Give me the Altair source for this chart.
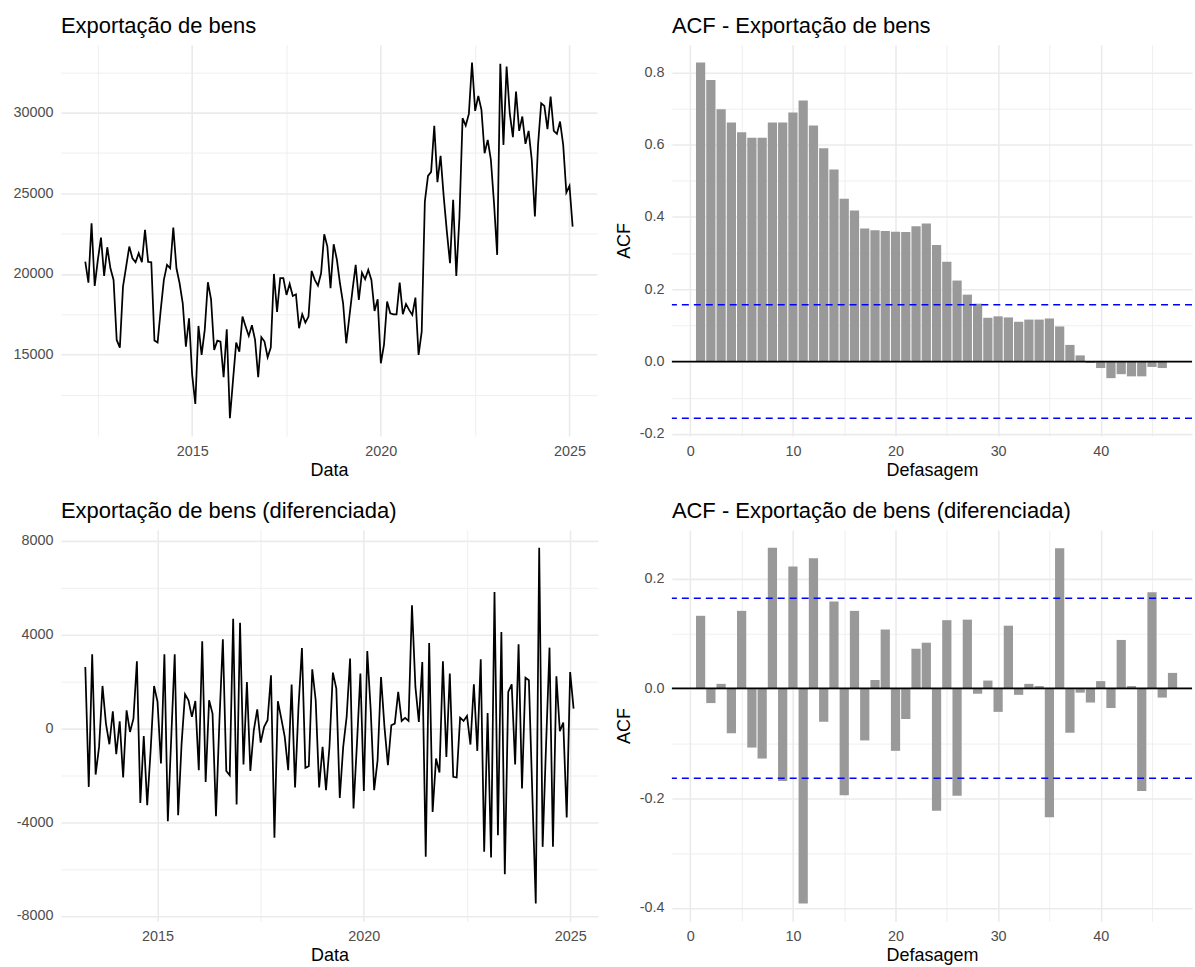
import altair as alt
import numpy as np
import pandas as pd

FONT = "Liberation Sans"

# Monthly goods exports (level), starting March 2012
export_start = "2012-03"
export_values = [
    20765, 19463, 23141, 19257, 20868, 22253, 19877, 21653, 20350, 19630,
    15910, 15435, 19216, 20455, 21695, 20972, 20724, 21282, 20724, 22728,
    20744, 20724, 15869, 15745, 17770, 19630, 20558, 20350, 22873, 20350,
    19422, 18182, 15497, 17253, 13740, 11943, 16778, 14980, 16530, 19484,
    18430, 15290, 15869, 15807, 13596, 16571, 11055, 13431, 15745, 15187,
    17356, 16737, 16158, 16819, 15910, 13596, 16075, 15807, 14836, 15435,
    19999, 17645, 19733, 19733, 18699, 19381, 18637, 18740, 16633, 17501,
    16984, 17356, 20186, 19630, 19278, 20042, 22459, 21695, 19112, 21840,
    20910, 19422, 18182, 15703, 17356, 19009, 20558, 18389, 20083, 19670,
    20248, 19630, 17707, 18430, 14464, 15600, 18286, 17563, 17501, 17501,
    19463, 17501, 18141, 17769, 17459, 18534, 14980, 16427, 24484, 26075,
    26322, 29174, 25682, 27314, 24794, 22624, 20662, 24587, 19877, 23500,
    29649, 29194, 29917, 33099, 30103, 31033, 30165, 27479, 28306, 27066,
    24380, 21178, 33016, 27996, 32851, 29959, 28471, 31302, 28864, 29752,
    28058, 28864, 27066, 23554, 27996, 30578, 30413, 28967, 30992, 28864,
    28678, 29442, 27996, 25042, 25455, 22934,
]

# Differenced series, starting April 2013
diff_start = "2013-04"
diff_values = [
    2615, -2501, 3155, -1975, -796, 1805, 199, -682, 725, -1108,
    298, -2103, 767, -156, 412, 2856, -3183, -327, -3283, -938,
    1805, 1123, -1506, 3155, -3965, -369, 3155, -3709, -654, 1449,
    1194, 483, 1165, -1790, 3709, -2288, 1194, 625, -3751, 300,
    3794, -1820, -2004, 4675, -3254, 4505, -1549, 1975, -1819, -85,
    810, -611, 57, 341, 2259, -4675, 1151, 412, -369, -1790,
    1862, -2529, 909, 3425, -1691, -1620, 2515, 1194, -2529, -796,
    -2643, -800, 2373, 1691, -2970, -796, 483, 2970, -3425, -654,
    2330, -2671, 3297, 767, -2643, -1364, 2188, 57, -1577, 128,
    199, 1549, 313, 441, 313, 5243, 1762, 270, 2828, -5485,
    3638, -3567, -1293, -1890, 2856, -1222, 2330, -2075, -2103, 455,
    313, 526, -696, 1876, -966, 2942, -5272, 654, -5513, 5812,
    -4561, 4107, -6224, 1549, 1876, -1549, 3581, -2572, 2160, 2046,
    -2800, -7475, 7702, -5059, -700, 3439, -5059, 2217, -128, 242,
    -3808, 2401, 838,
]

# Autocorrelations of the level series (lags 1..46)
acf_values = [
    0.827, 0.779, 0.698, 0.661, 0.634, 0.619, 0.619, 0.661, 0.661, 0.689,
    0.722, 0.653, 0.590, 0.531, 0.450, 0.418, 0.368, 0.363, 0.361, 0.359,
    0.358, 0.374, 0.382, 0.322, 0.276, 0.224, 0.185, 0.160, 0.121, 0.125,
    0.122, 0.110, 0.116, 0.116, 0.119, 0.097, 0.046, 0.017, -0.004, -0.018,
    -0.046, -0.035, -0.041, -0.041, -0.015, -0.018,
]

# Autocorrelations of the differenced series (lags 1..47)
acf_diff_values = [
    0.132, -0.027, 0.008, -0.082, 0.141, -0.108, -0.128, 0.256, -0.169, 0.222,
    -0.392, 0.237, -0.061, 0.158, -0.195, 0.141, -0.095, 0.015, 0.107, -0.114,
    -0.056, 0.072, 0.083, -0.223, 0.124, -0.196, 0.125, -0.010, 0.014, -0.043,
    0.114, -0.012, 0.008, 0.004, -0.235, 0.255, -0.081, -0.008, -0.026, 0.013,
    -0.036, 0.088, 0.004, -0.187, 0.175, -0.017, 0.028,
]

# 95% significance bounds
ci_level = 0.157
ci_level_diff = 0.164

ACF_X_DOMAIN = [-1.8, 48.9]
ACF_X_TICKS = [0, 5, 10, 15, 20, 25, 30, 35, 40, 45]


def monthly_index(start, n):
    months = pd.period_range(start, periods=n, freq="M")
    return np.asarray(months.year, dtype=float) + (np.asarray(months.month) - 1) / 12


def expand(lo, hi, mult=0.05):
    d = (hi - lo) * mult
    return [lo - d, hi + d]


def make_axis(values, major, title, fmt):
    return alt.Axis(
        values=values,
        title=title,
        labelExpr=f"({major}) ? replace(format(datum.value, '{fmt}'), '\u2212', '-') : ''",
        gridWidth={"condition": {"test": major, "value": 1.6}, "value": 0.8},
        labelOverlap=False,
        labelFlush=False,
    )


def title_params(text):
    return alt.TitleParams(
        text, anchor="start", frame="group", fontSize=22, fontWeight="normal",
        font=FONT, color="black", offset=-10, baseline="alphabetic",
    )


def series_panel(start, values, title, xticks, xmajor, yticks, ymajor, width, height):
    t = monthly_index(start, len(values))
    df = pd.DataFrame({"t": t, "v": values})
    xdom = expand(float(t.min()), float(t.max()))
    ydom = expand(float(min(values)), float(max(values)))
    return alt.Chart(df).mark_line(color="black", strokeWidth=1.75).encode(
        x=alt.X("t:Q", scale=alt.Scale(domain=xdom, nice=False, zero=False),
                axis=make_axis(xticks, xmajor, "Data", "d")),
        y=alt.Y("v:Q", scale=alt.Scale(domain=ydom, nice=False, zero=False),
                axis=make_axis(yticks, ymajor, None, "d")),
    ).properties(width=width, height=height, title=title_params(title))


def acf_panel(values, ci, title, yticks, width, height):
    lags = list(range(1, len(values) + 1))
    df = pd.DataFrame({"lag": lags, "acf": values})
    ydom = expand(min(min(values), -ci), max(max(values), ci))
    yscale = alt.Scale(domain=ydom, nice=False, zero=False)
    xscale = alt.Scale(domain=ACF_X_DOMAIN, nice=False, zero=False)
    yaxis = make_axis(yticks, "abs(round(datum.value * 10)) % 2 == 0", "ACF", ".1f")
    xaxis = make_axis(ACF_X_TICKS, "datum.value % 10 == 0", "Defasagem", "d")

    bars = alt.Chart(df).transform_calculate(
        lo="datum.lag - 0.45", hi="datum.lag + 0.45"
    ).mark_bar(color="#999999").encode(
        x=alt.X("lo:Q", scale=xscale, axis=xaxis),
        x2="hi:Q",
        y=alt.Y("acf:Q", scale=yscale, axis=yaxis),
        y2=alt.datum(0),
    )
    zero = alt.Chart(pd.DataFrame({"z": [0.0]})).mark_rule(
        color="black", strokeWidth=1.75
    ).encode(y=alt.Y("z:Q", scale=yscale, axis=yaxis))
    bounds = alt.Chart(pd.DataFrame({"ci": [ci, -ci]})).mark_rule(
        color="#0000FF", strokeWidth=1.5, strokeDash=[7, 5]
    ).encode(y=alt.Y("ci:Q", scale=yscale, axis=yaxis))
    return alt.layer(bars, zero, bounds).properties(
        width=width, height=height, title=title_params(title)
    )


PANEL_H = 392

top_left = series_panel(
    export_start, export_values, "Exportação de bens",
    [2012.5, 2015, 2017.5, 2020, 2022.5, 2025], "datum.value % 5 == 0",
    [12500, 15000, 17500, 20000, 22500, 25000, 27500, 30000, 32500],
    "datum.value % 5000 == 0", 537, PANEL_H,
)
bottom_left = series_panel(
    diff_start, diff_values, "Exportação de bens (diferenciada)",
    [2015, 2017.5, 2020, 2022.5, 2025], "datum.value % 5 == 0",
    [-8000, -6000, -4000, -2000, 0, 2000, 4000, 6000, 8000],
    "datum.value % 4000 == 0", 538, PANEL_H,
)
top_right = acf_panel(
    acf_values, ci_level, "ACF - Exportação de bens",
    [-0.2, -0.1, 0.0, 0.1, 0.2, 0.3, 0.4, 0.5, 0.6, 0.7, 0.8], 521, PANEL_H,
)
bottom_right = acf_panel(
    acf_diff_values, ci_level_diff, "ACF - Exportação de bens (diferenciada)",
    [-0.4, -0.3, -0.2, -0.1, 0.0, 0.1, 0.2], 521, PANEL_H,
)

chart = alt.concat(
    top_left, top_right, bottom_left, bottom_right,
    columns=2, spacing={"row": 94, "column": 74}, bounds="flush",
).properties(
    padding={"left": 12, "top": 14, "right": 2, "bottom": 2},
    background="white",
).configure_view(
    stroke=None
).configure_axis(
    domain=False,
    ticks=False,
    labelFont=FONT,
    labelFontSize=14.4,
    labelColor="#4D4D4D",
    labelPadding=8,
    titleFont=FONT,
    titleFontSize=18,
    titleFontWeight="normal",
    titleColor="black",
    gridColor="#EBEBEB",
).configure_axisX(
    titlePadding=4
).configure_axisY(
    titlePadding=6
)

chart.save("out.html", embed_options={"renderer": "svg", "actions": False})
